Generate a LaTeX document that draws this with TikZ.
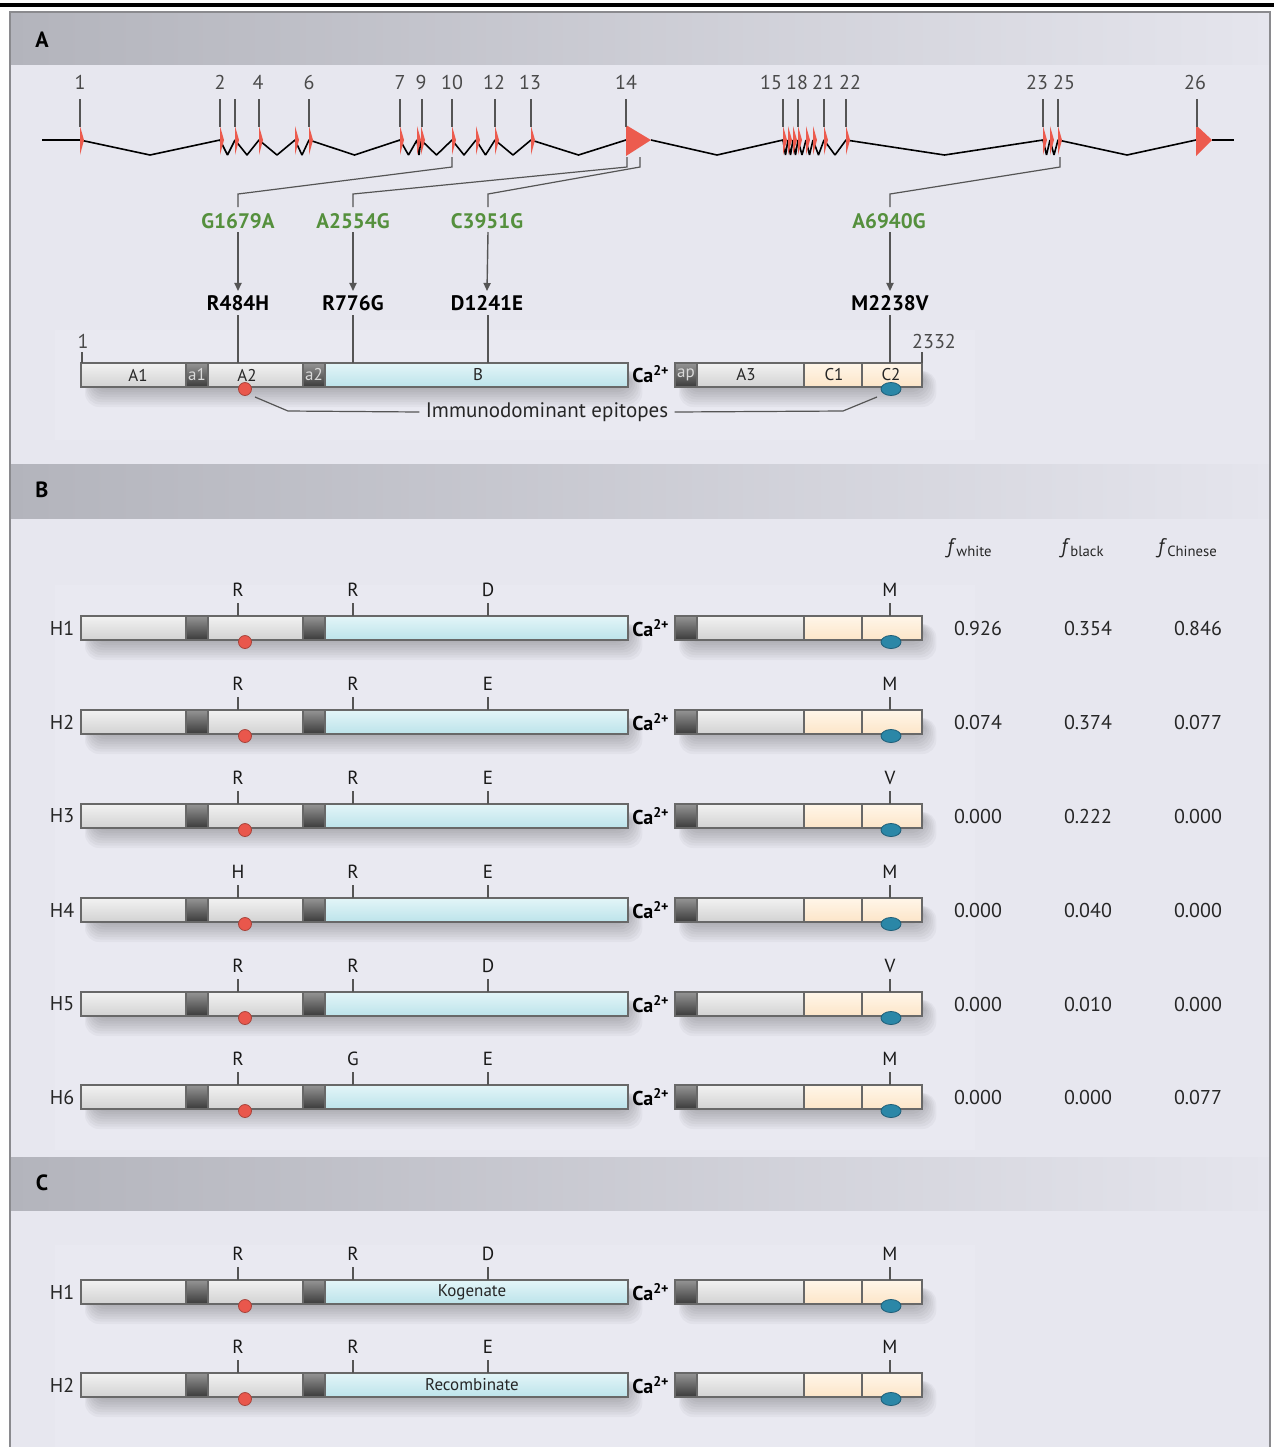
\documentclass[tikz,border=0pt]{standalone}
\usepackage{fontspec}
\setmainfont{PT Sans}
\usetikzlibrary{arrows.meta}
\definecolor{bgc}{HTML}{E7E7EF}
\definecolor{bgl}{HTML}{E9E9F1}
\definecolor{hdl}{HTML}{B3B4BC}
\definecolor{hdr}{HTML}{E5E5ED}
\definecolor{framec}{HTML}{8A8A8E}
\definecolor{exred}{HTML}{EC5B4E}
\definecolor{tickc}{HTML}{555555}
\definecolor{numc}{HTML}{4A4A4A}
\definecolor{mgreen}{HTML}{55903D}
\definecolor{segc}{HTML}{686868}
\definecolor{dotred}{HTML}{E9574C}
\definecolor{dotredd}{HTML}{A8443B}
\definecolor{dotblue}{HTML}{2B87A7}
\definecolor{dotblued}{HTML}{1E5E78}
\definecolor{gtop}{HTML}{F2F2F2}
\definecolor{gmid}{HTML}{DCDCDC}
\definecolor{gbot}{HTML}{D2D2D2}
\definecolor{dtop}{HTML}{959595}
\definecolor{dmid}{HTML}{484848}
\definecolor{dbot}{HTML}{3A3A3A}
\definecolor{ctop}{HTML}{E3F5F8}
\definecolor{cmid}{HTML}{C7E9EF}
\definecolor{cbot}{HTML}{BCE3EA}
\definecolor{ptop}{HTML}{FFF6E9}
\definecolor{pmid}{HTML}{FEEBD2}
\definecolor{pbot}{HTML}{FCE5C8}
\tikzset{
  segbase/.style={draw=segc, line width=0.75pt},
  gseg/.style={segbase, top color=gtop, middle color=gmid, bottom color=gbot},
  dseg/.style={segbase, top color=dtop, middle color=dmid, bottom color=dbot},
  cseg/.style={segbase, top color=ctop, middle color=cmid, bottom color=cbot},
  pseg/.style={segbase, top color=ptop, middle color=pmid, bottom color=pbot},
  exnum/.style={font=\fontsize{10}{12}\selectfont, text=numc, inner sep=1pt},
  tick/.style={draw=tickc, line width=0.7pt},
  conn/.style={draw=tickc, line width=0.6pt},
  mutg/.style={font=\fontsize{10.5}{12}\selectfont\bfseries, text=mgreen, inner sep=2pt},
  mutb/.style={font=\fontsize{10.5}{12}\selectfont\bfseries, text=black, inner sep=2pt},
  arr/.style={draw=tickc, line width=0.7pt, -{Triangle[length=4pt,width=3.6pt]}},
  lett/.style={font=\fontsize{9.5}{10}\selectfont, text=black!90, inner sep=1pt},
  hlab/.style={font=\fontsize{10}{12}\selectfont, text=black!85, inner sep=1pt},
  val/.style={font=\fontsize{10}{12}\selectfont, text=black!85, inner sep=1pt},
  seglab/.style={font=\fontsize{8.5}{10}\selectfont, text=black!85, inner sep=0pt},
  dseglab/.style={font=\fontsize{8.5}{10}\selectfont, text=white!85!black, inner sep=0pt},
  calab/.style={font=\fontsize{10}{12}\selectfont, text=black, inner sep=0pt},
  panlab/.style={font=\fontsize{11}{12}\selectfont\bfseries, text=black, inner sep=0pt},
  fhead/.style={font=\fontsize{10.5}{12}\selectfont, text=black!85, inner sep=0pt},
}
\newcommand{\barshadow}[3]{%
  \foreach \i in {1,...,8}{%
    \fill[black, opacity=0.03, rounded corners=7] ({#1+12-\i},{#3-4}) rectangle ({#2+1.8*\i},{#3+12+2.5*\i});
  }%
}
\newcommand{\protbar}[1]{%
  \barshadow{81}{628}{#1}\barshadow{675}{922}{#1}%
  \path[gseg] (81,{#1-12}) rectangle (186,{#1+12});
  \path[dseg] (186,{#1-12}) rectangle (208,{#1+12});
  \path[gseg] (208,{#1-12}) rectangle (303,{#1+12});
  \path[dseg] (303,{#1-12}) rectangle (325,{#1+12});
  \path[cseg] (325,{#1-12}) rectangle (628,{#1+12});
  \path[dseg] (675,{#1-12}) rectangle (697,{#1+12});
  \path[gseg] (697,{#1-12}) rectangle (804,{#1+12});
  \path[pseg] (804,{#1-12}) rectangle (862,{#1+12});
  \path[pseg] (862,{#1-12}) rectangle (922,{#1+12});
  \filldraw[fill=dotred, draw=dotredd, line width=0.4pt] (245,{#1+14}) circle [radius=6.5];
  \filldraw[fill=dotblue, draw=dotblued, line width=0.4pt] (891,{#1+14}) ellipse [x radius=10, y radius=6.5];
}
\newcommand{\muts}[6]{% yc, L1, L2, L3, L4, name
  \node[lett] (#6a) at (238,{#1-38}) {#2};
  \node[lett] (#6b) at (353,{#1-38}) {#3};
  \node[lett] (#6c) at (488,{#1-38}) {#4};
  \node[lett] (#6d) at (890,{#1-38}) {#5};
  \draw[tick] (238,{#1-25}) -- (238,{#1-12});
  \draw[tick] (353,{#1-25}) -- (353,{#1-12});
  \draw[tick] (488,{#1-25}) -- (488,{#1-12});
  \draw[tick] (890,{#1-25}) -- (890,{#1-12});
}
\begin{document}
\begin{tikzpicture}[x=0.5pt,y=-0.5pt]
\useasboundingbox (0,0) rectangle (1274,1447);
% frame
\fill[black] (0,3) rectangle (1274,6.5);
\fill[bgc] (10,12) rectangle (1270,1447);
\fill[bgl] (55,330) rectangle (975,440);
\fill[bgl] (55,585) rectangle (975,1150);
\fill[bgl] (55,1245) rectangle (975,1447);
\shade[left color=hdl, right color=hdr] (10,13) rectangle (1270,64);
\shade[left color=hdl, right color=hdr] (10,464) rectangle (1270,518);
\shade[left color=hdl, right color=hdr] (10,1157) rectangle (1270,1210);
\draw[framec, line width=0.8pt] (10,1447) -- (10,12) -- (1270,12) -- (1270,1447);
\node[panlab] (pA) at (42,40) {A};
\node[panlab] (pB) at (42,490) {B};
\node[panlab] (pC) at (42,1183) {C};

% ===== gene structure =====
\draw[black, line width=0.8pt, line join=bevel]
  (42,140) -- (80,140) -- (150,155) -- (220,140) -- (227.5,155) -- (235,140) -- (247,155) -- (259,140)
  -- (277,155) -- (295,140) -- (302,155) -- (309,140) -- (354.5,155) -- (400,140) -- (408.5,155)
  -- (417,140) -- (419,155) -- (421,140) -- (436.5,155) -- (452,140) -- (464,155) -- (476,140)
  -- (485.5,155) -- (495,140) -- (513,155) -- (531,140) -- (578.5,155) -- (626,140);
\draw[black, line width=0.8pt, line join=bevel]
  (651,140) -- (717,155) -- (783,140) -- (785.5,155) -- (788,140) -- (790.5,155) -- (793,140)
  -- (795.5,155) -- (798,140) -- (802,155) -- (806,140) -- (809.5,155) -- (813,140) -- (818.5,155)
  -- (824,140) -- (835,155) -- (846,140) -- (944.5,155) -- (1043,140) -- (1046.5,155) -- (1050,140)
  -- (1054,155) -- (1058,140) -- (1127,155) -- (1196,140);
\draw[black, line width=0.8pt] (1212,140) -- (1234,140);
\foreach \x in {80,220,235,259,295,309,400,417,421,452,476,495,531,783,788,793,798,806,813,824,846,1043,1050,1058}{
  \fill[exred] (\x,126) -- (\x+4,140) -- (\x,155) -- cycle;
}
\fill[exred] (626,125) -- (651,140) -- (626,156) -- cycle;
\fill[exred] (1196,125) -- (1212,140) -- (1196,156) -- cycle;
\foreach \t in {80,220,235,259,309,400,422,452,495,531,626,783,798,824,846,1043,1058,1197}{
  \draw[tick] (\t,99) -- (\t,127);
}
\foreach \n/\x in {1/80,2/220,4/258,6/309,7/400,9/421,10/452,12/494,13/530,14/626,15/771,18/797,21/823,22/850,23/1037,25/1064,26/1195}{
  \node[exnum] (ex\n) at (\x,82) {\n};
}

% ===== mutations =====
\node[mutg] (g1) at (238,221) {G1679A};
\node[mutg] (g2) at (353,221) {A2554G};
\node[mutg] (g3) at (487,221) {C3951G};
\node[mutg] (g4) at (889,221) {A6940G};
\coordinate (s1) at (452,157);
\coordinate (s2) at (627,157);
\coordinate (s3) at (640,157);
\coordinate (s4) at (1060,157);
\draw[conn] (s1) -- (452,167) -- (238,194) -- (238,207);
\draw[conn] (s2) -- (627,167) -- (353,194) -- (353,207);
\draw[conn] (s3) -- (640,167) -- (488,194) -- (488,207);
\draw[conn] (s4) -- (1060,167) -- (890,194) -- (890,207);
\node[mutb] (p1) at (238,303) {R484H};
\node[mutb] (p2) at (353,303) {R776G};
\node[mutb] (p3) at (487,303) {D1241E};
\node[mutb] (p4) at (890,303) {M2238V};
\draw[arr] (238,232) -- (p1.north);
\draw[arr] (353,232) -- (p2.north);
\draw[arr] (488,232) -- (p3.north);
\draw[arr] (890,232) -- (p4.north);

% ===== protein bar A =====
\protbar{375}
\coordinate (t1) at (238,363);
\coordinate (t2) at (353,363);
\coordinate (t3) at (488,363);
\coordinate (t4) at (890,363);
\draw[tick] (238,315) -- (t1);
\draw[tick] (353,315) -- (t2);
\draw[tick] (488,315) -- (t3);
\draw[tick] (890,315) -- (t4);
\draw[tick] (82,352) -- (82,363);
\draw[tick] (922,352) -- (922,363);
\node[exnum] (n1) at (83,341) {1};
\node[exnum] (n2332) at (934,341) {2332};
\node[seglab] (lA1) at (138,375) {A1};
\node[dseglab] (la1) at (197,375) {a1};
\node[seglab] (lA2) at (247,375) {A2};
\node[dseglab] (la2) at (314,375) {a2};
\node[seglab] (lB) at (478,375) {B};
\node[dseglab] (lap) at (686,375) {ap};
\node[seglab] (lA3) at (746,375) {A3};
\node[seglab] (lC1) at (834,375) {C1};
\node[seglab] (lC2) at (891,375) {C2};
\node[calab] (caA) at (651,374) {\textbf{Ca\textsuperscript{2+}}};
\node[font=\fontsize{10.5}{12}\selectfont, text=black!85, inner sep=3pt] (imm) at (547,412) {Immunodominant epitopes};
\coordinate (e1) at (255,397);
\coordinate (e2) at (877,397);
\draw[conn] (e1) -- (288,411) -- (imm.west);
\draw[conn] (imm.east) -- (843,411) -- (e2);

% ===== panel B =====
\node[fhead] (fw) at (970,548) {\textit{f}\textsubscript{white}};
\node[fhead] (fb) at (1083,548) {\textit{f}\textsubscript{black}};
\node[fhead] (fc) at (1188,548) {\textit{f}\textsubscript{Chinese}};
\foreach \y/\a/\b/\c/\d/\fw/\fb/\fc/\n in {
  628/R/R/D/M/0.926/0.354/0.846/1,
  722/R/R/E/M/0.074/0.374/0.077/2,
  816/R/R/E/V/0.000/0.222/0.000/3,
  910/H/R/E/M/0.000/0.040/0.000/4,
  1004/R/R/D/V/0.000/0.010/0.000/5,
  1097/R/G/E/M/0.000/0.000/0.077/6}{
  \protbar{\y}
  \muts{\y}{\a}{\b}{\c}{\d}{m\n}
  \node[hlab] (h\n) at (62,\y) {H\n};
  \node[calab] (ca\n) at (651,\y) {\textbf{Ca\textsuperscript{2+}}};
  \node[val] (vw\n) at (978,\y) {\fw};
  \node[val] (vb\n) at (1088,\y) {\fb};
  \node[val] (vc\n) at (1198,\y) {\fc};
}

% ===== panel C =====
\protbar{1292}
\muts{1292}{R}{R}{D}{M}{k}
\node[hlab] (kh) at (62,1292) {H1};
\node[calab] (kca) at (651,1292) {\textbf{Ca\textsuperscript{2+}}};
\node[seglab] (kog) at (472,1292) {Kogenate};
\protbar{1385}
\muts{1385}{R}{R}{E}{M}{r}
\node[hlab] (rh) at (62,1385) {H2};
\node[calab] (rca) at (651,1385) {\textbf{Ca\textsuperscript{2+}}};
\node[seglab] (rec) at (472,1385) {Recombinate};
\end{tikzpicture}
\end{document}
